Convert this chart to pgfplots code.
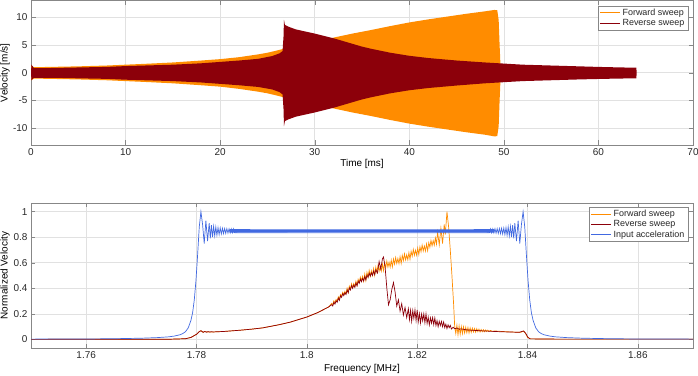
\documentclass[border=0pt]{standalone}
\usepackage{fontspec}
\setmainfont{Liberation Sans}
\usepackage{pgfplots}
\pgfplotsset{compat=1.18}

\definecolor{fwd}{RGB}{255,140,0}
\definecolor{rev}{RGB}{140,0,10}
\definecolor{inp}{RGB}{65,105,225}
\definecolor{gridc}{RGB}{225,225,225}
\definecolor{axc}{RGB}{135,135,135}
\definecolor{txtc}{RGB}{40,40,40}

\pgfplotsset{
  matlabstyle/.style={
    scale only axis,
    width=662bp,
    axis line style={axc},
    every tick/.style={axc},
    tick align=inside,
    major tick length=4.5bp,
    xmajorgrids, ymajorgrids,
    major grid style={gridc, line width=0.5pt},
    tick label style={font=\fontsize{10}{12}\selectfont, text=txtc},
    label style={font=\fontsize{10.5}{12}\selectfont, text=txtc},
    /pgf/number format/assume math mode=true,
    legend style={font=\fontsize{9}{11}\selectfont, draw=axc, fill=white,
      inner xsep=1.5pt, inner ysep=1pt, row sep=-1.5pt,
      cells={anchor=west}, text=txtc},
    legend cell align=left,
    every axis y label/.style={at={(axis description cs:-0.0393,0.5)}, rotate=90, anchor=center},
  }
}

\begin{document}
\begin{tikzpicture}[x=1bp,y=1bp]
\useasboundingbox (0,0) rectangle (698,375);

% ---------------- time signals ----------------
\begin{axis}[matlabstyle,
  at={(31bp,230bp)}, anchor=south west,
  height=144.5bp,
  xmin=0, xmax=70, ymin=-13, ymax=13,
  xtick={0,10,...,70}, ytick={-10,-5,0,5,10},
  xlabel={Time [ms]}, ylabel={Velocity [m/s]},
  every axis x label/.style={at={(axis description cs:0.5,-0.128)}, anchor=center},
  legend style={at={(0.9925,0.964)}, anchor=north east},
  legend image code/.code={\draw[#1, line width=1pt] (0bp,0bp) -- (20bp,0bp);},
]
% forward sweep envelope
\addplot[fill=fwd, draw=none, forget plot] coordinates {
(0,0)(0.05,1.3)(0.3,1.0)(2,1.05)(5,1.15)(8,1.3)(10,1.45)(12,1.6)(15,1.85)(18,2.2)(20,2.45)(22,2.8)(24,3.3)(25,3.6)(26,4.0)(26.7,4.3)(28,4.9)(30,5.6)(31.8,6.25)(34,7.05)(36,7.7)(38,8.4)(40,9.05)(42,9.6)(44,10.1)(46,10.6)(48,11.05)(49,11.3)(49.3,11.25)(49.45,9.5)(49.55,5)(49.65,1)(49.7,0)
(49.65,-1)(49.55,-5)(49.45,-9.6)(49.3,-11.4)(49,-11.45)(48,-11.15)(46,-10.7)(44,-10.2)(42,-9.7)(40,-9.15)(38,-8.5)(36,-7.8)(34,-7.15)(31.8,-6.35)(30,-5.7)(28,-5.0)(26.7,-4.4)(26,-4.1)(25,-3.7)(24,-3.4)(22,-2.9)(20,-2.5)(18,-2.25)(15,-1.9)(12,-1.65)(10,-1.5)(8,-1.35)(5,-1.2)(2,-1.1)(0.3,-1.05)(0.05,-1.35)(0,0)
} -- cycle;
% reverse sweep envelope
\addplot[fill=rev, draw=none, forget plot] coordinates {
(0,0)(0.05,1.45)(0.3,0.85)(2,0.85)(5,0.95)(8,1.05)(10,1.2)(12,1.3)(15,1.45)(18,1.7)(20,1.95)(22,2.2)(24,2.5)(25.5,3.0)(26.3,3.5)(26.6,3.9)(26.7,6.5)(26.75,9.5)(26.85,8.6)(27.2,8.3)(28,7.8)(30,7.05)(32,6.2)(34,5.2)(35,4.7)(36,4.3)(38,3.6)(40,3.05)(42,2.65)(45,2.2)(48,1.85)(50,1.65)(52,1.45)(55,1.3)(58,1.15)(60,1.05)(62,0.97)(64,0.9)(64.05,0)
(64,-1.0)(62,-1.05)(60,-1.12)(58,-1.2)(55,-1.35)(52,-1.5)(50,-1.7)(48,-1.9)(45,-2.3)(42,-2.75)(40,-3.15)(38,-3.7)(36,-4.4)(35,-4.8)(34,-5.3)(32,-6.3)(30,-7.15)(28,-7.9)(27.2,-8.4)(26.85,-8.7)(26.75,-9.6)(26.7,-6.5)(26.6,-3.9)(26.3,-3.5)(25.5,-3.0)(24,-2.55)(22,-2.25)(20,-2.0)(18,-1.75)(15,-1.5)(12,-1.35)(10,-1.25)(8,-1.1)(5,-1.0)(2,-0.9)(0.3,-0.9)(0.05,-1.35)(0,0)
} -- cycle;
\addlegendimage{fwd}
\addlegendentry{Forward sweep}
\addlegendimage{rev}
\addlegendentry{Reverse sweep}
\end{axis}

% ---------------- frequency responses ----------------
\begin{axis}[matlabstyle,
  at={(31bp,26.7bp)}, anchor=south west,
  height=145.6bp,
  xmin=1.75, xmax=1.87, ymin=-0.07, ymax=1.07,
  xtick={1.76,1.78,1.8,1.82,1.84,1.86}, ytick={0,0.2,0.4,0.6,0.8,1},
  xticklabels={1.76,1.78,1.8,1.82,1.84,1.86},
  yticklabels={0,0.2,0.4,0.6,0.8,1},
  xlabel={Frequency [MHz]}, ylabel={Normalized Velocity},
  every axis x label/.style={at={(axis description cs:0.5,-0.142)}, anchor=center},
  legend style={at={(0.9925,0.9725)}, anchor=north east},
  legend image code/.code={\draw[#1] (0bp,0bp) -- (20bp,0bp);},
]
% forward sweep
\addplot[fwd, line width=0.7pt] coordinates {
(1.750,0)(1.775,0.001)(1.778,0.005)(1.779,0.015)(1.780,0.04)(1.7805,0.06)(1.7808,0.068)(1.7812,0.055)(1.7815,0.062)(1.782,0.057)(1.783,0.058)(1.785,0.062)(1.788,0.072)(1.790,0.08)(1.792,0.09)(1.795,0.115)(1.797,0.135)(1.800,0.175)(1.802,0.21)(1.804,0.255)
(1.8045,0.282)(1.8047,0.271)(1.8049,0.301)(1.8051,0.286)(1.8053,0.312)(1.8055,0.300)(1.8057,0.333)(1.8059,0.315)
(1.8061,0.351)(1.8063,0.339)(1.8065,0.368)(1.8067,0.352)(1.8069,0.376)(1.8071,0.357)(1.8073,0.400)(1.8075,0.369)
(1.8077,0.417)(1.8079,0.394)(1.8081,0.435)(1.8083,0.406)(1.8085,0.437)(1.8087,0.413)(1.8089,0.455)(1.8091,0.423)
(1.8093,0.470)(1.8095,0.446)(1.8097,0.487)(1.8099,0.458)(1.8101,0.493)(1.8103,0.455)(1.8105,0.512)(1.8107,0.461)
(1.8109,0.525)(1.8111,0.487)(1.8113,0.541)(1.8115,0.496)(1.8117,0.537)(1.8119,0.499)(1.8121,0.554)(1.8123,0.502)
(1.8125,0.565)(1.8127,0.526)(1.8129,0.579)(1.8131,0.533)(1.8133,0.573)(1.8135,0.534)(1.8137,0.590)(1.8139,0.538)
(1.8141,0.601)(1.8143,0.561)(1.8145,0.613)(1.8147,0.566)(1.8149,0.605)(1.8151,0.565)(1.8153,0.620)(1.8155,0.567)
(1.8157,0.629)(1.8159,0.589)(1.8161,0.641)(1.8163,0.594)(1.8165,0.633)(1.8167,0.593)(1.8169,0.648)(1.8171,0.595)
(1.8173,0.657)(1.8175,0.617)(1.8177,0.669)(1.8179,0.622)(1.8181,0.662)(1.8183,0.623)(1.8185,0.679)(1.8187,0.627)
(1.8189,0.690)(1.8191,0.651)(1.8193,0.704)(1.8195,0.658)(1.8197,0.698)(1.8199,0.659)(1.8201,0.715)(1.8203,0.663)
(1.8205,0.725)(1.8207,0.686)(1.8209,0.738)(1.8211,0.692)(1.8213,0.731)(1.8215,0.692)(1.8217,0.747)(1.8219,0.695)
(1.8221,0.757)(1.8223,0.721)(1.8225,0.775)(1.8227,0.732)(1.8229,0.773)(1.8231,0.737)(1.8233,0.794)(1.8235,0.745)
(1.8237,0.84)(1.8240,0.74)(1.8243,0.87)(1.8246,0.75)(1.8249,0.90)(1.8251,0.82)(1.8254,1.0)(1.8257,0.88)(1.8260,0.70)(1.8263,0.50)(1.8266,0.28)(1.8268,0.10)
(1.8270,0.045)(1.8272,0.11)(1.8274,0.035)(1.8276,0.105)(1.8278,0.04)(1.8280,0.10)(1.8282,0.045)(1.8284,0.098)(1.8286,0.05)(1.8288,0.095)
(1.8290,0.052)(1.8292,0.092)(1.8294,0.05)(1.8296,0.09)(1.8298,0.055)(1.8300,0.088)(1.8302,0.058)(1.8304,0.085)(1.8306,0.056)(1.8308,0.083)
(1.8310,0.06)(1.8312,0.08)(1.8314,0.058)(1.8316,0.078)(1.8318,0.06)(1.8320,0.076)(1.8322,0.06)(1.8324,0.074)(1.8326,0.061)(1.8328,0.072)
(1.8330,0.062)(1.8333,0.07)(1.8336,0.062)(1.834,0.066)
(1.836,0.06)(1.838,0.056)(1.8388,0.055)(1.8392,0.065)(1.8396,0.05)(1.840,0.015)(1.8405,0.004)(1.845,0.002)(1.87,0.002)
};
\addlegendentry{Forward sweep}
% reverse sweep
\addplot[rev, line width=0.7pt] coordinates {
(1.750,0)(1.775,0.001)(1.778,0.005)(1.779,0.015)(1.780,0.04)(1.7805,0.06)(1.7808,0.068)(1.7812,0.055)(1.7815,0.062)(1.7818,0.056)(1.7821,0.061)(1.7824,0.057)(1.7827,0.06)(1.783,0.058)(1.785,0.062)(1.788,0.072)(1.790,0.08)(1.792,0.09)(1.795,0.115)(1.797,0.135)(1.800,0.175)(1.802,0.21)(1.804,0.255)
(1.8045,0.272)(1.8047,0.261)(1.8049,0.291)(1.8051,0.276)(1.8053,0.302)(1.8055,0.290)(1.8057,0.323)(1.8059,0.305)
(1.8061,0.341)(1.8063,0.329)(1.8065,0.358)(1.8067,0.342)(1.8069,0.366)(1.8071,0.351)(1.8073,0.387)(1.8075,0.364)
(1.8077,0.403)(1.8079,0.387)(1.8081,0.420)(1.8083,0.399)(1.8085,0.425)(1.8087,0.407)(1.8089,0.442)(1.8091,0.418)
(1.8093,0.456)(1.8095,0.439)(1.8097,0.472)(1.8099,0.451)(1.8101,0.477)(1.8103,0.457)(1.8105,0.492)(1.8107,0.466)
(1.8109,0.504)(1.8111,0.485)(1.8113,0.518)(1.8115,0.495)(1.8117,0.521)(1.8119,0.501)(1.8121,0.534)(1.8123,0.507)
(1.8125,0.545)(1.8128,0.52)(1.8131,0.61)(1.8134,0.55)(1.8137,0.63)(1.8139,0.645)(1.8142,0.56)(1.8145,0.40)(1.8148,0.27)(1.8151,0.31)(1.8154,0.39)
(1.8157,0.445)(1.8160,0.37)(1.8163,0.26)(1.8166,0.31)(1.8169,0.22)(1.8172,0.28)(1.8175,0.19)(1.8178,0.25)(1.8181,0.17)(1.8184,0.24)
(1.8186,0.155)(1.8188,0.228)(1.8190,0.142)(1.8192,0.226)(1.8194,0.164)(1.8196,0.231)(1.8198,0.147)(1.8200,0.231)
(1.8202,0.139)(1.8204,0.201)(1.8206,0.129)(1.8208,0.198)(1.8210,0.145)(1.8212,0.200)(1.8214,0.130)(1.8216,0.200)
(1.8218,0.124)(1.8220,0.173)(1.8222,0.113)(1.8224,0.169)(1.8226,0.127)(1.8228,0.171)(1.8230,0.115)(1.8232,0.168)
(1.8234,0.108)(1.8236,0.147)(1.8238,0.099)(1.8240,0.142)(1.8242,0.108)(1.8244,0.140)(1.8246,0.099)(1.8248,0.136)
(1.8250,0.092)(1.8252,0.119)(1.8254,0.085)(1.8256,0.114)(1.8258,0.091)(1.8260,0.110)(1.8262,0.082)
(1.8265,0.095)(1.8268,0.083)(1.8272,0.089)(1.8276,0.079)(1.828,0.082)(1.829,0.074)(1.832,0.066)(1.835,0.06)(1.838,0.056)(1.8385,0.055)(1.8390,0.062)(1.8393,0.066)(1.8397,0.045)(1.8401,0.015)(1.8405,0.004)(1.845,0.002)(1.87,0.002)
};
\addlegendentry{Reverse sweep}
% input acceleration: steady band between the two ringing edges
\addplot[fill=inp, draw=none, forget plot] coordinates {
(1.786,0.864)(1.79,0.862)(1.80,0.861)(1.81,0.861)(1.82,0.861)(1.83,0.862)(1.834,0.864)
(1.834,0.836)(1.83,0.838)(1.82,0.839)(1.81,0.839)(1.80,0.839)(1.79,0.838)(1.786,0.836)
} -- cycle;
% input acceleration
\addplot[inp, line width=0.7pt] coordinates {
(1.750,0.002)(1.760,0.003)(1.765,0.005)(1.770,0.009)(1.773,0.014)(1.775,0.02)(1.776,0.026)(1.777,0.036)(1.7775,0.045)(1.778,0.06)(1.7785,0.09)(1.779,0.15)(1.7793,0.21)(1.7796,0.31)(1.7799,0.46)(1.7802,0.66)(1.7805,0.88)
(1.7808,1.0)(1.7811,0.90)(1.7814,0.75)(1.7817,0.93)(1.7820,0.77)(1.7823,0.91)(1.7825,0.79)(1.7827,0.895)(1.7829,0.80)(1.7831,0.885)(1.7833,0.81)(1.7835,0.88)(1.7837,0.815)(1.7839,0.875)
(1.7841,0.82)(1.7843,0.872)(1.7845,0.825)(1.7847,0.87)(1.7849,0.828)(1.7851,0.868)(1.7853,0.83)(1.7855,0.867)(1.7857,0.832)(1.7859,0.866)(1.7861,0.833)(1.7863,0.865)(1.7865,0.834)(1.7867,0.865)(1.7869,0.835)
(1.8331,0.835)(1.8333,0.865)(1.8335,0.834)(1.8337,0.865)(1.8339,0.833)(1.8341,0.866)(1.8343,0.832)(1.8345,0.867)(1.8347,0.83)(1.8349,0.868)(1.8351,0.828)(1.8353,0.87)(1.8355,0.825)(1.8357,0.872)
(1.8359,0.82)(1.8361,0.875)(1.8363,0.815)(1.8365,0.88)(1.8367,0.81)(1.8369,0.885)(1.8371,0.80)(1.8373,0.895)(1.8375,0.79)(1.8377,0.91)(1.8380,0.77)(1.8383,0.93)(1.8386,0.75)(1.8389,0.90)
(1.8392,1.0)(1.8395,0.88)(1.8398,0.66)(1.8401,0.46)(1.8404,0.31)(1.8407,0.21)(1.841,0.15)(1.8415,0.09)(1.842,0.06)(1.8425,0.045)(1.843,0.036)(1.844,0.026)(1.845,0.02)(1.847,0.014)(1.85,0.009)(1.855,0.005)(1.86,0.003)(1.87,0.002)
};
\addlegendentry{Input acceleration}
\end{axis}
\end{tikzpicture}
\end{document}
